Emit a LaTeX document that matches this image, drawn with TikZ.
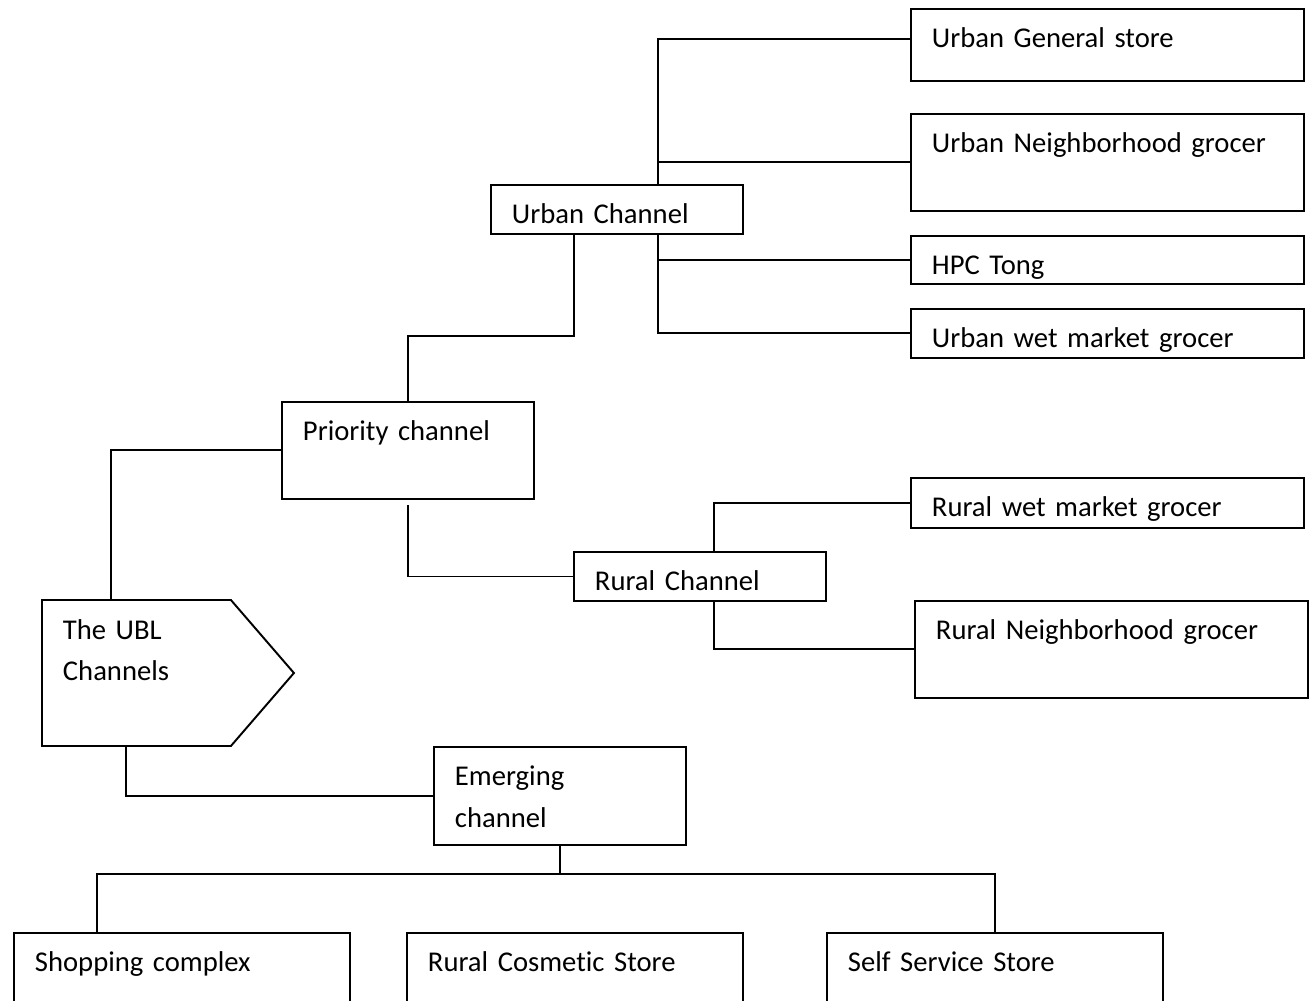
\documentclass[tikz,border=0pt]{standalone}
\usepackage{fontspec}
\setmainfont{Carlito}[Ligatures=NoCommon]
\usepackage{tikz}
\usetikzlibrary{shapes.symbols}

\begin{document}
\begin{tikzpicture}[
		x=0.02cm, y=-0.02cm,
		line width=1.1pt,
		font=\fontsize{16.3pt}{23.8pt}\selectfont,
		box/.style = {
			draw, anchor=north west,
			align=left,
			inner xsep=0.42cm, inner ysep=0pt,
			text height=0.78cm
		},
		outlet/.style = {
			box, text width=7.02cm
		},
		channel/.style = {
			box, text width=4.2cm
		},
		store/.style = {
			box, text width=5.88cm, text depth=1.4cm
		},
		root/.style = {
			signal, signal to=east, signal pointer angle=98.4,
			draw, anchor=west,
			align=left, text width=2.94cm,
			inner xsep=0.42cm, inner ysep=0pt,
			text height=0.78cm, text depth=2.14cm
		}
	]
	\useasboundingbox (0,0) rectangle (1314,1000);
	% urban side
	\node[outlet, text depth=0.66cm] (ug) at (910,8) {Urban General store};
	\node[outlet, text depth=1.16cm] (un) at (910,113) {Urban Neighborhood grocer};
	\node[outlet, text depth=0.18cm] (hpc) at (910,235) {HPC Tong};
	\node[outlet, text depth=0.2cm] (uw) at (910,308) {Urban wet market grocer};
	\node[channel, text depth=0.2cm] (uc) at (490,184) {Urban Channel};
	\node[channel, text depth=1.16cm] (prio) at (281,401) {Priority channel};
	% rural side
	\node[outlet, text depth=0.22cm] (rw) at (910,477) {Rural wet market grocer};
	\node[channel, text depth=0.2cm] (rc) at (573,551) {Rural Channel};
	\node[outlet, text depth=1.16cm] (rn) at (914,600) {Rural Neighborhood grocer};
	% root and emerging
	\node[root] (ubl) at (41,673) {The UBL\\Channels};
	\node[channel, text depth=1.18cm] (em) at (433,746) {Emerging\\channel};
	\node[store] (shop) at (13,932) {Shopping complex};
	\node[store] (cos) at (406,932) {Rural Cosmetic Store};
	\node[store] (self) at (826,932) {Self Service Store};

	\draw ([xshift=3.36cm]uc.north west) |- ([yshift=0.12cm]ug.west);
	\draw ([xshift=3.36cm]uc.north west) |- (un.west);
	\draw ([xshift=3.36cm]uc.south west) |- (hpc.west);
	\draw ([xshift=3.36cm]uc.south west) |- (uw.west);
	\draw ([xshift=1.68cm]uc.south west) -- ++(0,101) -| (prio.north);
	\draw (prio.west) -| ([xshift=1.4cm]ubl.north west);
	\draw ([yshift=-0.1cm]prio.south) |- (rc.west);
	\draw ([xshift=2.82cm]rc.north west) |- (rw.west);
	\draw ([xshift=2.82cm]rc.south west) |- (rn.west);
	\draw ([xshift=1.7cm]ubl.south west) |- (em.west);
	\draw (em.south) -- ++(0,28) coordinate (emjoin);
	\draw ([xshift=1.68cm]shop.north west) |- (emjoin) -| (self.north);
\end{tikzpicture}
\end{document}
